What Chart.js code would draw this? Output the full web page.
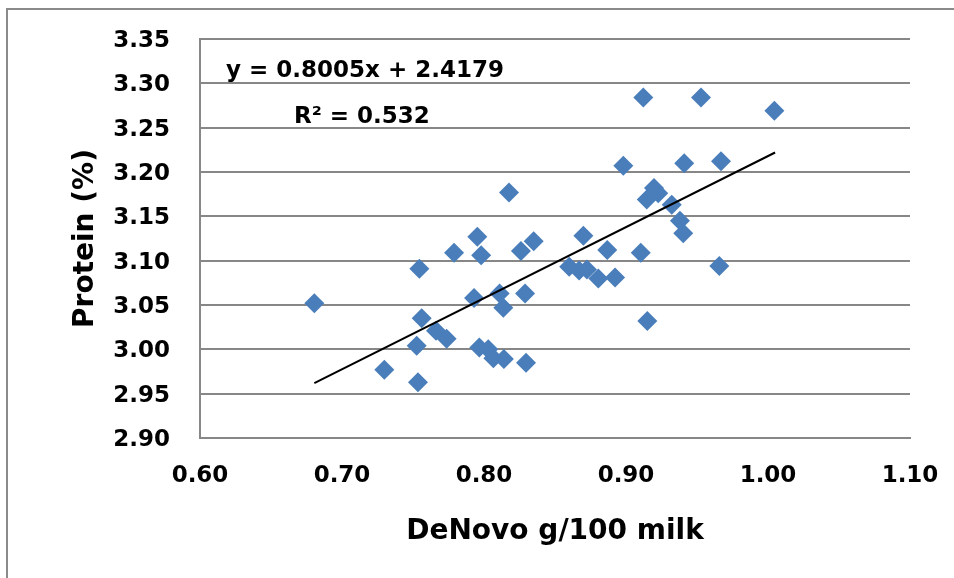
<!DOCTYPE html>
<html>
<head>
<meta charset="utf-8">
<script src="https://cdn.jsdelivr.net/npm/chart.js@4.4.0/dist/chart.umd.min.js"></script>
<style>
  html, body { margin: 0; padding: 0; background: #fff; overflow: hidden; }
  #wrap { position: relative; width: 954px; height: 578px; }
  #frame {
    position: absolute; left: 6px; top: 8px; width: 1000px; height: 700px;
    border-left: 2px solid #8a8a8a; border-top: 2px solid #8a8a8a;
  }
  canvas { position: absolute; left: 0; top: 0; }
</style>
</head>
<body>
<div id="wrap">
  <div id="frame"></div>
  <canvas id="protChart" width="954" height="578"></canvas>
</div>
<script>
// values
const denovo = [
  0.6805, 0.7298, 0.7545, 0.7535, 0.7526, 0.7561, 0.7662, 0.7737, 0.7789, 0.7953,
  0.7980, 0.7930, 0.8110, 0.8136, 0.8289, 0.7967, 0.8030, 0.8066, 0.8140, 0.8296,
  0.8176, 0.8260, 0.8350, 0.8700, 0.8868, 0.8600, 0.8670, 0.8725, 0.8805, 0.8923,
  0.8981, 0.9104, 0.9150, 0.9122, 0.9528, 0.9410, 0.9669, 1.0045, 0.9197, 0.9227,
  0.9146, 0.9322, 0.9380, 0.9403, 0.9657
];
const protein = [
  3.052, 2.977, 3.091, 2.963, 3.004, 3.035, 3.021, 3.012, 3.109, 3.127,
  3.106, 3.058, 3.063, 3.047, 3.063, 3.002, 3.000, 2.990, 2.989, 2.985,
  3.177, 3.111, 3.122, 3.128, 3.112, 3.093, 3.089, 3.090, 3.080, 3.081,
  3.207, 3.109, 3.032, 3.284, 3.284, 3.210, 3.212, 3.269, 3.182, 3.176,
  3.169, 3.163, 3.145, 3.131, 3.094
];

// trendline end points as drawn
const trendX = [0.6805, 1.005];
const trendY = [2.962, 3.222];

const eqText = 'y = 0.8005x + 2.4179';
const r2Text = 'R\u00b2 = 0.532';

const FONT = '"DejaVu Sans", sans-serif';
const GRID = '#878787';

const scatterPts = denovo.map((x, i) => ({ x: x, y: protein[i] }));
const trendPts = trendX.map((x, i) => ({ x: x, y: trendY[i] }));

// keep tick padding from pushing the plot area around
function noEdgePadding(s) {
  s.paddingLeft = 0;
  s.paddingRight = 0;
  s.paddingTop = 0;
  s.paddingBottom = 0;
}

const equationLabel = {
  id: 'equationLabel',
  afterDatasetsDraw(chart) {
    const ctx = chart.ctx;
    ctx.save();
    ctx.fillStyle = '#000';
    ctx.font = 'bold 23px ' + FONT;
    ctx.textAlign = 'left';
    ctx.textBaseline = 'alphabetic';
    ctx.fillText(eqText, 226, 77);
    ctx.fillText(r2Text, 294, 123);
    ctx.restore();
  }
};

new Chart(document.getElementById('protChart'), {
  type: 'scatter',
  data: {
    datasets: [
      {
        type: 'line',
        label: 'trend',
        data: trendPts,
        borderColor: '#000',
        borderWidth: 2,
        pointRadius: 0,
        fill: false,
        order: 0
      },
      {
        label: 'Protein',
        data: scatterPts,
        pointStyle: 'rectRot',
        pointRadius: 10,
        pointHoverRadius: 10,
        backgroundColor: '#4a7ebb',
        borderColor: '#4a7ebb',
        borderWidth: 0,
        order: 1
      }
    ]
  },
  options: {
    responsive: false,
    animation: false,
    events: [],
    layout: { padding: { left: 0, top: 39, right: 44, bottom: 0 } },
    plugins: { legend: { display: false }, tooltip: { enabled: false } },
    scales: {
      x: {
        type: 'linear',
        min: 0.6,
        max: 1.1,
        ticks: {
          stepSize: 0.1,
          padding: 24,
          color: '#000',
          font: { family: FONT, size: 23, weight: 'bold' },
          callback: v => v.toFixed(2)
        },
        grid: { display: false, drawTicks: false },
        border: { display: true, color: GRID, width: 2 },
        title: {
          display: true,
          text: 'DeNovo g/100 milk',
          color: '#000',
          font: { family: FONT, size: 28, weight: 'bold' },
          padding: { top: 0, bottom: 29 }
        },
        afterFit: s => { s.height = 140; noEdgePadding(s); }
      },
      y: {
        type: 'linear',
        min: 2.9,
        max: 3.35,
        ticks: {
          stepSize: 0.05,
          padding: 30,
          labelOffset: 2,
          color: '#000',
          font: { family: FONT, size: 23, weight: 'bold' },
          callback: v => v.toFixed(2)
        },
        grid: { color: GRID, lineWidth: 2, drawTicks: false },
        border: { display: true, color: GRID, width: 2 },
        title: {
          display: true,
          text: 'Protein (%)',
          color: '#000',
          font: { family: FONT, size: 28, weight: 'bold' },
          padding: { top: 69, bottom: 0 }
        },
        afterFit: s => { s.width = 200; noEdgePadding(s); }
      }
    }
  },
  plugins: [equationLabel]
});
</script>
</body>
</html>
